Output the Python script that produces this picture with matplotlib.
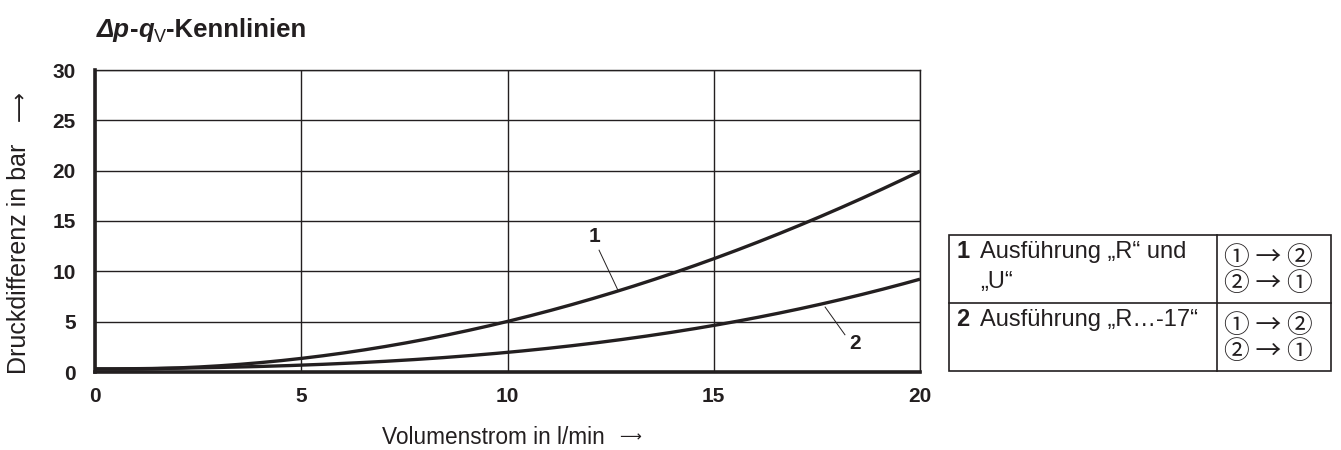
import matplotlib
matplotlib.use("Agg")
import matplotlib.pyplot as plt
import numpy as np
from matplotlib.lines import Line2D
from matplotlib.patches import Rectangle

plt.rcParams['font.family'] = ['Liberation Sans', 'DejaVu Sans', 'Noto Sans CJK SC']

# Data
flow = [0, 2.5, 5, 7.5, 10, 12.5, 15, 17.5, 20]
dp_curve1 = [0.3, 0.5, 1.35, 2.9, 5.0, 7.8, 11.2, 15.4, 19.9]
dp_curve2 = [0.3, 0.4, 0.7, 1.2, 1.9, 3.1, 4.6, 6.7, 9.2]
x_ticks = [0, 5, 10, 15, 20]
y_ticks = [0, 5, 10, 15, 20, 25, 30]
legend_nums = ["1", "2"]
legend_rows = ["Ausführung „R“ und\n„U“", "Ausführung „R…-17“"]
legend_dirs = ["① → ②\n② → ①", "① → ②\n② → ①"]

W, H = 1341, 450
fig = plt.figure(figsize=(13.41, 4.5), dpi=100)
ax = fig.add_axes([95 / W, 1 - 372 / H, (920 - 95) / W, (372 - 70) / H])

ink = '#231f20'
xs = np.linspace(0, 20, 200)
c1 = np.polyval(np.polyfit(flow, dp_curve1, 3), xs)
c2 = np.polyval(np.polyfit(flow, dp_curve2, 3), xs)
ax.plot(xs, c1, color=ink, lw=2.4, solid_capstyle='butt', zorder=3)
ax.plot(xs, c2, color=ink, lw=2.4, solid_capstyle='butt', zorder=3)

ax.set_xlim(0, 20)
ax.set_ylim(0, 30)
ax.set_xticks(x_ticks)
ax.set_yticks(y_ticks)
ax.grid(True, color=ink, lw=1.0)
ax.tick_params(length=0, labelsize=15)
for lab in ax.get_xticklabels() + ax.get_yticklabels():
    lab.set_fontweight('bold')
    lab.set_color(ink)
ax.tick_params(axis='y', pad=14)
ax.tick_params(axis='x', pad=11)
ax.spines['left'].set_linewidth(2.6)
ax.spines['bottom'].set_linewidth(2.6)
ax.spines['top'].set_linewidth(1.0)
ax.spines['right'].set_linewidth(1.0)
for s in ax.spines.values():
    s.set_color(ink)
    s.set_zorder(4)

# curve labels with leader lines
ax.text(12.1, 13.5, "1", fontsize=15, fontweight='bold', ha='center', va='center', color=ink)
ax.plot([12.22, 12.68], [12.1, 8.1], color=ink, lw=0.7)
ax.text(18.42, 2.8, "2", fontsize=15, fontweight='bold', ha='center', va='center', color=ink)
ax.plot([17.7, 18.18], [6.45, 3.7], color=ink, lw=0.7)

ARW = ['DejaVu Sans', 'Noto Sans CJK SC']


def fx(px):
    return px / W


def fy(py):
    return 1 - py / H


# axis labels
fig.text(fx(493), fy(438), "Volumenstrom in l/min", fontsize=16.3, ha='center', va='center', color=ink)
fig.text(fx(630), fy(437), "⟶", fontsize=11, family=ARW, ha='center', va='center', color=ink)
fig.text(fx(19), fy(259), "Druckdifferenz in bar", fontsize=18, ha='center', va='center',
         rotation=90, color=ink)
fig.text(fx(20), fy(106), "⟶", fontsize=15, family=ARW, ha='center', va='center',
         rotation=90, color=ink)

# title, built from pieces
renderer = fig.canvas.get_renderer()
title_parts = [
    ("Δp", dict(fontsize=18.5, fontweight='bold', fontstyle='italic'), 0),
    ("-", dict(fontsize=18.5, fontweight='bold'), 0),
    ("q", dict(fontsize=18.5, fontweight='bold', fontstyle='italic'), 0),
    ("V", dict(fontsize=13, fontweight='normal'), 5),
    ("-Kennlinien", dict(fontsize=18.5, fontweight='bold'), 0),
]
xp = 97.0
for txt, kw, drop in title_parts:
    t = fig.text(fx(xp), fy(37 + drop), txt, ha='left', va='baseline', color=ink,
                 family=['Liberation Sans'], **kw)
    bb = t.get_window_extent(renderer)
    xp += bb.width

# legend table
fig.add_artist(Rectangle((fx(949), fy(371)), (1331 - 949) / W, (371 - 235) / H,
                         transform=fig.transFigure, fill=False, ec=ink, lw=1.2))
fig.add_artist(Line2D([fx(949), fx(1331)], [fy(303), fy(303)], transform=fig.transFigure, color=ink, lw=1.2))
fig.add_artist(Line2D([fx(1217), fx(1217)], [fy(235), fy(371)], transform=fig.transFigure, color=ink, lw=1.2))

row_tops = [235, 303]
for i in range(2):
    top = row_tops[i]
    fig.text(fx(956), fy(top + 17), legend_nums[i], fontsize=17, fontweight='bold', ha='left', va='center',
             color=ink)
    fig.text(fx(980), fy(top + 6), legend_rows[i], fontsize=17, ha='left', va='top', color=ink,
             linespacing=1.45)
    fig.text(fx(1268), fy(top + 36), legend_dirs[i], fontsize=18.5,
             family=['Noto Sans CJK SC', 'DejaVu Sans'], ha='center', va='center', color=ink,
             linespacing=0.98)

fig.savefig("out.png", dpi=100)
